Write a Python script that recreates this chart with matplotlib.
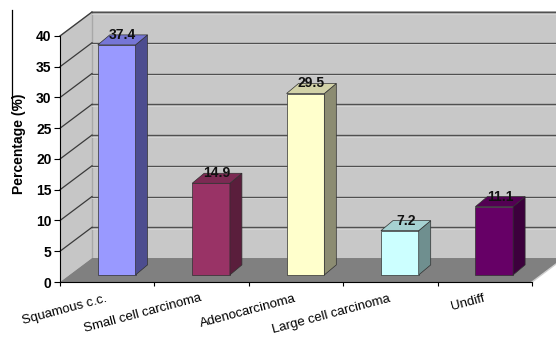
import matplotlib
matplotlib.use("Agg")
import matplotlib.pyplot as plt
from matplotlib.patches import Polygon
from matplotlib.lines import Line2D

plt.rcParams['font.family'] = ['Liberation Sans', 'DejaVu Sans']

# Data
categories = ["Squamous c.c.", "Small cell carcinoma", "Adenocarcinoma",
              "Large cell carcinoma", "Undiff"]
percentages = [37.4, 14.9, 29.5, 7.2, 11.1]
y_ticks = [0, 5, 10, 15, 20, 25, 30, 35, 40]

front_colors = ["#9999FF", "#993366", "#FFFFCC", "#CCFFFF", "#660066"]
side_colors = ["#4D4D8F", "#5A1E3C", "#8C8C72", "#6F8F8F", "#3C003C"]
top_colors = ["#7676D6", "#7C2A53", "#D2D2A8", "#A6D2D2", "#530053"]

# Oblique depth of the chart box (data units) and bar placement
DX, DY = 0.339, 3.9          # full wall depth
BAR_SX, BAR_SY = 0.10, 1.15  # bar front plane offset
BAR_DX, BAR_DY = 0.127, 1.63 # bar thickness
BAR_W = 0.40
YMAX = 40

W, H = 556, 338
fig = plt.figure(figsize=(W / 100, H / 100), dpi=100)
ax = fig.add_axes([60 / W, (H - 282) / H, 472 / W, 246 / H])
n = len(categories)
ax.set_xlim(0, n)
ax.set_ylim(0, YMAX)

# Back wall
ax.add_patch(Polygon([(DX, DY), (n + DX + 0.5, DY), (n + DX + 0.5, YMAX + DY), (DX, YMAX + DY)],
                     closed=True, facecolor="#C8C8C8", edgecolor="none", zorder=0, clip_on=False))
ax.plot([DX, n + DX + 0.5], [YMAX + DY, YMAX + DY], color="#A8A8A8", lw=1.2, zorder=1, clip_on=False)
# Side wall
ax.add_patch(Polygon([(0, 0), (DX, DY), (DX, YMAX + DY), (0, YMAX)],
                     closed=True, facecolor="#C6C6C6", edgecolor="none", zorder=0, clip_on=False))
ax.plot([0, DX], [YMAX, YMAX + DY], color="#A8A8A8", lw=1.0, zorder=1, clip_on=False)
ax.plot([DX, DX], [DY, YMAX + DY], color="#A8A8A8", lw=1.0, zorder=1, clip_on=False)

# Gridlines on walls
for v in y_ticks[1:]:
    ax.plot([DX, n + DX + 0.5], [v + DY, v + DY], color="#505050", lw=1.0, zorder=1, clip_on=False)
    ax.plot([DX, n + DX + 0.5], [v + DY - 0.25, v + DY - 0.25], color="#D8D8D8", lw=0.6, zorder=1, clip_on=False)
    ax.plot([0, DX], [v, v + DY], color="#3A3A3A", lw=0.9, zorder=1, clip_on=False)

# Floor
ax.add_patch(Polygon([(0, 0), (n, 0), (n + DX, DY), (DX, DY)],
                     closed=True, facecolor="#808080", edgecolor="none", zorder=2, clip_on=False))
ax.plot([n, n + DX], [0, DY], color="#CFCFCF", lw=1.0, zorder=2, clip_on=False)

# Bars: front faces
xs = [i + 0.5 + BAR_SX for i in range(n)]
ax.bar(xs, percentages, width=BAR_W, bottom=BAR_SY, color=front_colors,
       edgecolor="#303030", linewidth=0.5, zorder=3, clip_on=False)

# Bars: side and top faces, value labels
for x, v, sc, tc in zip(xs, percentages, side_colors, top_colors):
    xl, xr = x - BAR_W / 2, x + BAR_W / 2
    y0, y1 = BAR_SY, BAR_SY + v
    ax.add_patch(Polygon([(xr, y0), (xr + BAR_DX, y0 + BAR_DY), (xr + BAR_DX, y1 + BAR_DY), (xr, y1)],
                         closed=True, facecolor=sc, edgecolor="#303030", lw=0.5, zorder=3, clip_on=False))
    ax.add_patch(Polygon([(xl, y1), (xr, y1), (xr + BAR_DX, y1 + BAR_DY), (xl + BAR_DX, y1 + BAR_DY)],
                         closed=True, facecolor=tc, edgecolor="#303030", lw=0.5, zorder=3, clip_on=False))
    ax.text(x + BAR_DX / 2, y1 + BAR_DY, f"{v}", ha="center", va="center",
            fontsize=10, fontweight="bold", color="#111111", zorder=5, clip_on=False)

# Axes styling
for s in ["top", "right"]:
    ax.spines[s].set_visible(False)
ax.spines["left"].set_color("black")
ax.spines["bottom"].set_color("black")
ax.set_facecolor("none")
ax.set_yticks(y_ticks)
ax.set_yticklabels([str(t) for t in y_ticks], fontsize=10, fontweight="bold")
ax.set_xticks(range(n + 1))
ax.set_xticklabels([])
ax.tick_params(axis="y", direction="out", length=4, width=0.8, pad=2)
ax.tick_params(axis="x", direction="out", length=3, width=0.8)

ax.set_ylabel("Percentage (%)", fontsize=10, fontweight="bold")
ax.yaxis.set_label_coords(-0.073, 0.56)

# Category labels
for i, name in enumerate(categories):
    ax.text(i + 0.48, -1.7, name, rotation=15, rotation_mode="anchor",
            ha="right", va="top", fontsize=9.5, clip_on=False)

fig.add_artist(Line2D([12 / W, 12 / W], [(H - 10) / H, (H - 108) / H],
                      color="black", lw=0.9))

fig.savefig("out.png", dpi=100)
